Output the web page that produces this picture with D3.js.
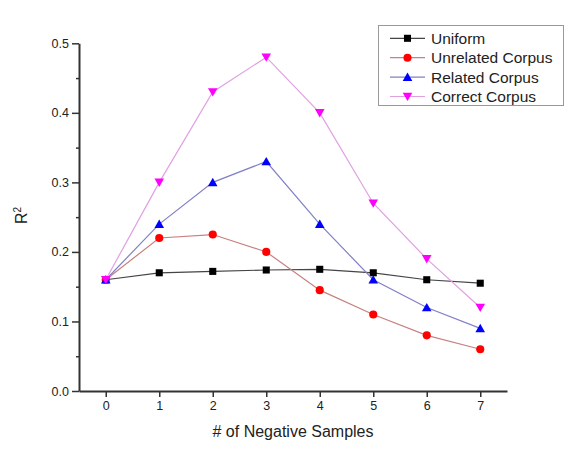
<!DOCTYPE html>
<html>
<head>
<meta charset="utf-8">
<script src="https://cdn.jsdelivr.net/npm/d3@7"></script>
<style>
  body { margin: 0; background: #fff; }
  text { font-family: "Liberation Sans", Arial, sans-serif; fill: #222; }
</style>
</head>
<body>
<div id="chart"></div>
<script>
var samples = [0, 1, 2, 3, 4, 5, 6, 7]
var uniform = [0.16, 0.17, 0.172, 0.174, 0.175, 0.17, 0.16, 0.155]
var unrelated = [0.16, 0.22, 0.225, 0.2, 0.145, 0.11, 0.08, 0.06]
var related = [0.16, 0.24, 0.30, 0.33, 0.24, 0.16, 0.12, 0.09]
var correct = [0.16, 0.30, 0.43, 0.48, 0.40, 0.27, 0.19, 0.12]
var seriesNames = ["Uniform", "Unrelated Corpus", "Related Corpus", "Correct Corpus"]
var yTicks = [0.0, 0.1, 0.2, 0.3, 0.4, 0.5]

var width = 569, height = 458

// look of each series: marker colour, line colour, symbol
var styles = [
  {fill: "#000000", line: "#444444", sym: d3.symbolSquare, size: 50, rot: 0},
  {fill: "#ff0000", line: "#c88080", sym: d3.symbolCircle, size: 52, rot: 0},
  {fill: "#0000ff", line: "#8080c8", sym: d3.symbolTriangle, size: 40, rot: 0},
  {fill: "#ff00ff", line: "#e0a0e0", sym: d3.symbolTriangle, size: 40, rot: 180}
]
var values = [uniform, unrelated, related, correct]

var svg = d3.select("#chart").append("svg")
  .attr("width", width)
  .attr("height", height)

var x = d3.scaleLinear().domain([-0.5, 7.5]).range([79, 507])
var y = d3.scaleLinear().domain([0, 0.5]).range([391, 43.3])

// y axis, with minor ticks
var yMinor = d3.range(0.05, 0.5, 0.1)
svg.append("g")
  .attr("transform", "translate(79,0)")
  .call(d3.axisLeft(y).tickValues(yMinor).tickSize(3).tickFormat(""))
  .call(function(g) { g.select(".domain").remove() })
  .selectAll("line").attr("stroke", "#333").attr("stroke-width", 1.5)

var yAxis = svg.append("g")
  .attr("transform", "translate(79,0)")
  .call(d3.axisLeft(y).tickValues(yTicks).tickSize(7).tickSizeOuter(0).tickPadding(3).tickFormat(d3.format(".1f")))
yAxis.select(".domain").attr("stroke", "#333").attr("stroke-width", 2)
yAxis.selectAll(".tick line").attr("stroke", "#333").attr("stroke-width", 1.5)
yAxis.selectAll("text").attr("font-size", "12.5px").attr("fill", "#222")
  .style("font-family", "Liberation Sans, Arial, sans-serif")

var xAxis = svg.append("g")
  .attr("transform", "translate(0,391)")
  .call(d3.axisBottom(x).tickValues(samples).tickSize(6).tickSizeOuter(0).tickPadding(4))
xAxis.select(".domain").attr("stroke", "#333").attr("stroke-width", 2)
xAxis.selectAll(".tick line").attr("stroke", "#333").attr("stroke-width", 1.5)
xAxis.selectAll("text").attr("font-size", "12.5px").attr("fill", "#222")
  .style("font-family", "Liberation Sans, Arial, sans-serif")

// axis titles
svg.append("text")
  .attr("x", 293).attr("y", 437)
  .attr("text-anchor", "middle")
  .attr("font-size", "16px")
  .text("# of Negative Samples")

var yTitle = svg.append("text")
  .attr("transform", "translate(27,224) rotate(-90)")
  .attr("font-size", "16px")
yTitle.append("tspan").text("R")
yTitle.append("tspan").attr("dy", -6).attr("font-size", "10px").text("2")

// series
var line = d3.line()
  .x(function(d, i) { return x(samples[i]) })
  .y(function(d) { return y(d) })

values.forEach(function(vals, k) {
  var st = styles[k]
  var g = svg.append("g")
  g.append("path")
    .attr("d", line(vals))
    .attr("fill", "none")
    .attr("stroke", st.line)
    .attr("stroke-width", 1.2)
  g.selectAll("path.pt")
    .data(vals)
    .enter().append("path")
    .attr("class", "pt")
    .attr("d", d3.symbol().type(st.sym).size(st.size))
    .attr("transform", function(d, i) {
      var dy = st.sym === d3.symbolTriangle ? (st.rot ? -1 : 1) : 0
      return "translate(" + x(samples[i]) + "," + (y(d) + dy) + ") rotate(" + st.rot + ")"
    })
    .attr("fill", st.fill)
})

// legend
var legend = svg.append("g")
legend.append("rect")
  .attr("x", 378.5).attr("y", 25.5)
  .attr("width", 185).attr("height", 80)
  .attr("fill", "#fff")
  .attr("stroke", "#999")
  .attr("stroke-width", 1)

seriesNames.forEach(function(name, k) {
  var st = styles[k]
  var ry = 38.3 + k * 19.4
  legend.append("line")
    .attr("x1", 390).attr("x2", 425)
    .attr("y1", ry).attr("y2", ry)
    .attr("stroke", st.line).attr("stroke-width", 1.2)
  var dy = st.sym === d3.symbolTriangle ? (st.rot ? -1 : 1) : 0
  legend.append("path")
    .attr("d", d3.symbol().type(st.sym).size(st.size))
    .attr("transform", "translate(407.5," + (ry + dy) + ") rotate(" + st.rot + ")")
    .attr("fill", st.fill)
  legend.append("text")
    .attr("x", 431).attr("y", ry + 5.5)
    .attr("font-size", "15.5px")
    .text(name)
})
</script>
</body>
</html>
